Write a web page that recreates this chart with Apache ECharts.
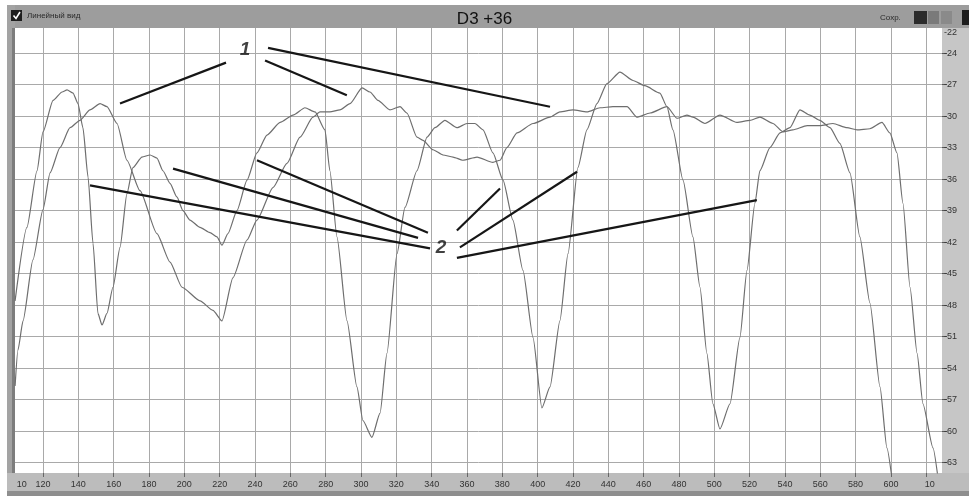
<!DOCTYPE html>
<html>
<head>
<meta charset="utf-8">
<script src="https://cdn.jsdelivr.net/npm/echarts@6/dist/echarts.min.js"></script>
<style>
  html, body { margin: 0; padding: 0; background: #fff; }
  #chart { width: 969px; height: 496px; }
</style>
</head>
<body>
<div id="chart"></div>
<script>
// Frequency axis grid and labels
const xGridValues = [120,140,160,180,200,220,240,260,280,300,320,340,360,380,400,420,440,460,480,500,520,540,560,580,600,620];
const xLabelValues = [108,120,140,160,180,200,220,240,260,280,300,320,340,360,380,400,420,440,460,480,500,520,540,560,580,600,622];
const xLabelTexts = ['10','120','140','160','180','200','220','240','260','280','300','320','340','360','380','400','420','440','460','480','500','520','540','560','580','600','10'];

// Level axis grid and labels
const yGridValues = [-24,-27,-30,-33,-36,-39,-42,-45,-48,-51,-54,-57,-60,-63];
const yLabelValues = [-22,-24,-27,-30,-33,-36,-39,-42,-45,-48,-51,-54,-57,-60,-63];

// Curve 2: the response with the deep notches
const curveNotched = [
  [104.2,-47.6],[110.9,-40.6],[116.6,-35.2],[120.0,-31.5],[125.7,-28.5],[130.8,-27.7],[133.6,-27.5],[137.0,-27.8],
  [139.8,-28.8],[142.6,-31.1],[145.5,-35.8],[148.3,-42.1],[151.1,-48.8],[153.4,-49.9],[156.2,-48.8],[159.6,-46.3],
  [163.6,-42.5],[167.5,-37.4],[170.9,-34.9],[176.0,-33.9],[180.6,-33.7],[184.5,-34.0],[187.9,-35.2],[191.9,-36.4],
  [195.8,-37.7],[199.2,-39.0],[203.2,-39.9],[208.9,-40.6],[214.5,-41.1],[218.5,-41.5],[221.3,-42.3],[224.7,-41.2],
  [229.8,-39.0],[235.5,-36.1],[241.1,-33.5],[246.8,-31.8],[254.2,-30.6],[261.5,-29.9],[268.3,-29.2],[274.0,-29.6],
  [279.6,-31.3],[282.4,-35.2],[286.4,-41.5],[292.1,-49.5],[297.7,-55.8],[301.1,-59.0],[306.2,-60.6],[310.8,-58.3],
  [314.7,-52.6],[320.4,-43.1],[324.9,-38.7],[331.7,-35.2],[337.4,-32.0],[341.9,-31.1],[347.5,-30.4],[354.3,-31.1],
  [360.0,-30.7],[364.5,-30.7],[369.1,-31.3],[374.7,-33.5],[380.4,-36.1],[386.0,-39.9],[391.7,-44.7],[397.4,-51.1],
  [402.4,-57.8],[407.0,-55.8],[412.6,-49.5],[417.2,-43.1],[422.8,-34.9],[427.9,-31.3],[433.6,-28.8],[439.2,-26.9],
  [446.6,-25.8],[454.0,-26.6],[460.7,-27.1],[469.2,-27.8],[473.2,-29.1],[476.6,-31.3],[482.3,-36.1],[487.9,-41.5],
  [491.9,-46.3],[495.8,-52.6],[499.2,-57.4],[503.2,-59.8],[508.9,-57.4],[514.5,-51.1],[518.5,-44.7],[523.0,-38.3],
  [525.8,-35.2],[531.5,-33.0],[537.2,-31.6],[542.8,-31.1],[548.5,-29.4],[554.1,-29.9],[559.8,-30.4],[565.5,-31.1],
  [571.1,-32.6],[576.8,-35.4],[582.4,-41.5],[588.1,-47.8],[593.8,-55.8],[597.7,-61.6],[601.1,-65.2]
];

// Curve 1: the flatter response
const curveFlat = [
  [104.2,-55.7],[105.8,-52.3],[108.7,-49.5],[114.3,-43.7],[120.0,-38.9],[124.0,-35.4],[129.6,-33.0],[135.3,-31.1],
  [140.9,-30.4],[146.6,-29.4],[152.3,-28.8],[156.2,-29.1],[161.9,-30.7],[167.5,-34.2],[174.9,-37.1],[184.5,-41.2],
  [191.9,-43.9],[198.7,-46.3],[208.9,-47.6],[216.2,-48.5],[221.3,-49.5],[227.5,-45.4],[235.5,-41.8],[241.1,-39.9],
  [250.2,-36.8],[258.1,-34.5],[265.5,-32.0],[272.8,-30.1],[276.8,-29.6],[282.4,-29.6],[288.1,-29.4],[293.8,-28.8],
  [300.6,-27.3],[305.1,-27.7],[309.6,-28.5],[316.4,-29.4],[322.1,-29.1],[326.0,-29.7],[331.7,-32.0],[335.1,-32.3],
  [340.8,-33.2],[346.4,-33.7],[352.1,-33.9],[357.7,-34.2],[365.7,-33.9],[374.7,-34.4],[378.7,-34.2],[382.6,-33.0],
  [388.3,-31.6],[397.4,-30.7],[407.0,-30.1],[412.6,-29.6],[420.0,-29.4],[427.9,-29.6],[435.3,-29.2],[442.6,-29.1],
  [450.6,-29.1],[456.2,-30.1],[463.6,-29.7],[473.2,-29.1],[478.9,-30.2],[484.5,-29.9],[487.9,-30.1],[494.7,-30.7],
  [503.2,-29.9],[512.8,-30.6],[520.2,-30.4],[525.8,-30.1],[533.2,-30.7],[538.9,-31.5],[544.5,-31.3],[552.5,-30.9],
  [559.8,-30.9],[567.2,-30.7],[575.1,-31.1],[580.8,-31.3],[588.1,-31.2],[594.9,-30.6],[599.4,-31.6],[603.4,-33.5],
  [606.8,-38.3],[610.8,-46.3],[614.8,-52.6],[618.1,-57.4],[623.8,-61.6],[627.2,-65.2]
];

// Callout leader lines (start and end in axis units)
const leadersOne = [
  [[223.6,-24.9],[163.6,-28.8]],
  [[245.7,-24.7],[292.0,-28.0]],
  [[247.4,-23.5],[407.0,-29.1]]
];
const leadersTwo = [
  [[146.6,-36.6],[339.1,-42.6]],
  [[193.6,-35.0],[332.3,-41.6]],
  [[241.1,-34.2],[337.9,-41.1]],
  [[354.3,-40.9],[378.7,-36.9]],
  [[356.0,-42.5],[422.3,-35.3]],
  [[354.3,-43.5],[524.1,-38.0]]
];
const calloutTexts = ['1', '2'];
const calloutPoints = [[234.3,-23.7],[345.3,-42.5]];

const chart = echarts.init(document.getElementById('chart'), null, { renderer: 'canvas' });

const fontFamily = '"Liberation Sans", Arial, sans-serif';

const leaderSeries = leadersOne.concat(leadersTwo).map(seg => ({
  type: 'line',
  data: seg,
  symbol: 'none',
  silent: true,
  z: 4,
  lineStyle: { color: '#161616', width: 2.2 }
}));

const curveStyle = { color: '#6e6e6e', width: 1.2 };

const option = {
  animation: false,
  backgroundColor: '#ffffff',
  title: {
    text: 'D3 +36',
    left: 'center',
    top: 6,
    textStyle: { fontFamily, fontSize: 17, fontWeight: 'normal', color: '#111' }
  },
  grid: {
    left: 15, right: 27, top: 28, bottom: 23,
    show: true, backgroundColor: '#ffffff', borderWidth: 0
  },
  xAxis: {
    type: 'value',
    min: 104.15, max: 628.9,
    axisLine: { show: false },
    axisTick: { show: true, customValues: xGridValues, length: 4, lineStyle: { color: '#666' } },
    axisLabel: {
      customValues: xLabelValues,
      formatter: v => xLabelTexts[xLabelValues.indexOf(v)],
      fontFamily, fontSize: 9, color: '#333', margin: 7
    },
    splitLine: { show: true, lineStyle: { color: '#a9a9a9', width: 1 } }
  },
  yAxis: {
    type: 'value',
    position: 'right',
    min: -64, max: -21.6,
    axisLine: { show: false },
    axisTick: { show: true, customValues: yGridValues, length: 5, lineStyle: { color: '#555' } },
    axisLabel: {
      customValues: yLabelValues,
      formatter: v => String(v),
      fontFamily, fontSize: 9, color: '#333', margin: 2
    },
    splitLine: { show: true, lineStyle: { color: '#a9a9a9', width: 1 } }
  },
  graphic: [
    // window frame panels
    { type: 'rect', z: -10, shape: { x: 7, y: 5, width: 962, height: 23 }, style: { fill: '#9d9d9d' } },
    { type: 'rect', z: -10, shape: { x: 7, y: 5, width: 8, height: 491 }, style: { fill: '#a3a3a3' } },
    { type: 'rect', z: -10, shape: { x: 12, y: 28, width: 3, height: 445 }, style: { fill: '#7d7d7d' } },
    { type: 'rect', z: -10, shape: { x: 942, y: 28, width: 27, height: 445 }, style: { fill: '#c6c6c6' } },
    { type: 'rect', z: -10, shape: { x: 7, y: 473, width: 962, height: 18 }, style: { fill: '#bcbcbc' } },
    { type: 'rect', z: -10, shape: { x: 7, y: 491, width: 962, height: 5 }, style: { fill: '#8e8e8e' } },
    // view toggle
    { type: 'rect', z: 10, shape: { x: 11, y: 10, width: 11, height: 11 }, style: { fill: '#1e1e1e' } },
    { type: 'polyline', z: 11, shape: { points: [[13.5,15.5],[16,18.5],[20,12]] }, style: { stroke: '#ffffff', lineWidth: 1.6, fill: null } },
    { type: 'text', z: 10, x: 27, y: 16, style: { text: 'Линейный вид', fontFamily, fontSize: 8, fill: '#2a2a2a', verticalAlign: 'middle' } },
    // save controls
    { type: 'text', z: 10, x: 880, y: 18, style: { text: 'Сохр.', fontFamily, fontSize: 8, fill: '#2a2a2a', verticalAlign: 'middle' } },
    { type: 'rect', z: 10, shape: { x: 914, y: 11, width: 13, height: 13 }, style: { fill: '#2b2b2b' } },
    { type: 'rect', z: 10, shape: { x: 928, y: 11, width: 11, height: 13 }, style: { fill: '#7a7a7a' } },
    { type: 'rect', z: 10, shape: { x: 941, y: 11, width: 11, height: 13 }, style: { fill: '#8a8a8a' } },
    { type: 'rect', z: 10, shape: { x: 962, y: 10, width: 7, height: 15 }, style: { fill: '#1e1e1e' } }
  ],
  series: [
    {
      type: 'line', name: 'curve-2', data: curveNotched, symbol: 'none', z: 3, clip: true,
      smooth: 0.2, smoothMonotone: 'x', lineStyle: curveStyle
    },
    {
      type: 'line', name: 'curve-1', data: curveFlat, symbol: 'none', z: 3, clip: true,
      smooth: 0.2, smoothMonotone: 'x', lineStyle: curveStyle
    },
    ...leaderSeries,
    {
      type: 'scatter',
      data: calloutPoints.map((p, i) => ({ value: p, name: calloutTexts[i] })),
      symbolSize: 1,
      itemStyle: { color: 'rgba(0,0,0,0)' },
      z: 5,
      label: {
        show: true,
        position: 'inside',
        formatter: p => p.name,
        fontFamily, fontSize: 19, fontWeight: 'bold', fontStyle: 'italic', color: '#111'
      }
    }
  ]
};

chart.setOption(option);
</script>
</body>
</html>
